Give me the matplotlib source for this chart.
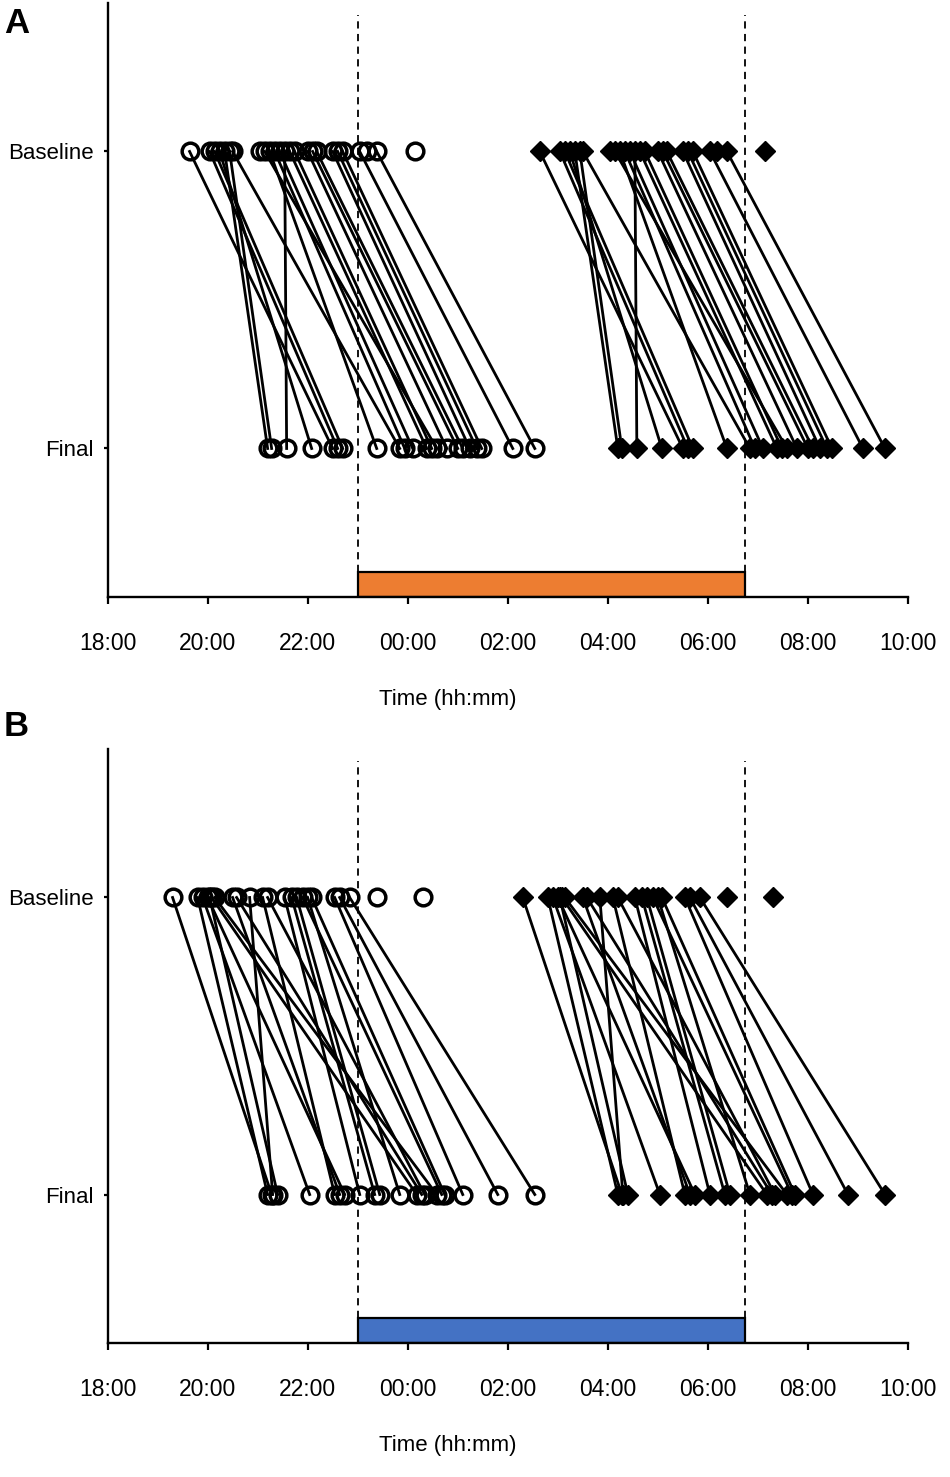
import numpy as np
from matplotlib import use
use('Agg')
from matplotlib import pyplot as plt

plt.rcParams['font.family'] = ['Liberation Sans', 'DejaVu Sans']

# Panel A - bedtime (open circles), baseline -> final, paired by participant
bed_base_a = [19.64, 20.04, 20.14, 20.24, 20.34, 20.50, 20.44, 21.14, 21.24, 21.34, 21.44,
              21.54, 21.64, 21.74, 22.00, 22.10, 22.18, 22.50, 22.60, 22.70, 23.04, 23.38]
bed_final_a = [22.50, 22.60, 22.70, 22.08, 21.20, 23.84, 21.28, 24.58, 23.38, 23.94, 24.10,
               21.58, 24.38, 24.48, 24.78, 25.00, 25.10, 25.24, 25.38, 25.48, 26.10, 26.54]
bed_only_a = [21.04, 23.18, 24.14]
# Panel A - wake time (diamonds)
wake_base_a = [26.64, 27.04, 27.14, 27.24, 27.34, 27.50, 27.44, 28.14, 28.24, 28.34, 28.44,
               28.54, 28.64, 28.74, 29.00, 29.10, 29.18, 29.50, 29.60, 29.70, 30.04, 30.38]
wake_final_a = [29.50, 29.60, 29.70, 29.08, 28.20, 30.84, 28.28, 31.58, 30.38, 30.94, 31.10,
                28.58, 31.38, 31.48, 31.78, 32.00, 32.10, 32.24, 32.38, 32.48, 33.10, 33.54]
wake_only_a = [28.04, 30.18, 31.14]

# Panel B
bed_base_b = [19.30, 19.80, 19.90, 20.00, 20.04, 20.08, 20.14, 20.50, 20.58, 20.84, 21.10,
              21.20, 21.54, 21.68, 21.78, 21.90, 22.00, 22.08, 22.54, 22.64, 22.84]
bed_final_b = [21.28, 21.20, 22.04, 22.74, 21.40, 24.18, 24.58, 22.64, 24.28, 21.30, 22.54,
               24.34, 23.04, 23.34, 23.44, 24.68, 23.84, 24.74, 25.10, 25.80, 26.54]
bed_only_b = [23.38, 24.30]
wake_base_b = [26.30, 26.80, 26.90, 27.00, 27.04, 27.08, 27.14, 27.50, 27.58, 27.84, 28.10,
               28.20, 28.54, 28.68, 28.78, 28.90, 29.00, 29.08, 29.54, 29.64, 29.84]
wake_final_b = [28.28, 28.20, 29.04, 29.74, 28.40, 31.18, 31.58, 29.64, 31.28, 28.30, 29.54,
                31.34, 30.04, 30.34, 30.44, 31.68, 30.84, 31.74, 32.10, 32.80, 33.54]
wake_only_b = [30.38, 31.30]

# scheduled sleep window (23:00 -> 06:45)
window_start = 23.0
window_end = 30.75

hour_ticks = list(range(18, 35, 2))
tick_labels = ['%02d:00' % (h % 24) for h in hour_ticks]
row_labels = ['Final', 'Baseline']


def draw_panel(ax, bb, bf, bo, wb, wf, wo, bar_color):
    for b, f in zip(bb, bf):
        ax.plot([b, f], [2, 1], color='black', lw=2.0, zorder=2)
    for b, f in zip(wb, wf):
        ax.plot([b, f], [2, 1], color='black', lw=2.0, zorder=2)
    circ = dict(marker='o', ms=12, mfc='none', mec='black', mew=2.5, ls='none', zorder=3)
    diam = dict(marker='D', ms=10.5, mfc='black', mec='black', ls='none', zorder=3)
    ax.plot(bb + bo, [2] * len(bb + bo), **circ)
    ax.plot(bf, [1] * len(bf), **circ)
    ax.plot(wb + wo, [2] * len(wb + wo), **diam)
    ax.plot(wf, [1] * len(wf), **diam)

    ax.bar(window_start, 0.084, width=window_end - window_start, bottom=0.5,
           align='edge', color=bar_color, edgecolor='black', lw=1.6, zorder=2)
    for x in (window_start, window_end):
        ax.plot([x, x], [0.584, 2.46], color='black', lw=1.3,
                ls=(0, (4, 3)), zorder=1)

    ax.set_xlim(18, 34)
    ax.set_ylim(0.5, 2.5)
    ax.set_xticks(hour_ticks)
    ax.set_xticklabels(tick_labels, fontsize=16.5)
    ax.set_yticks([1, 2])
    ax.set_yticklabels(row_labels, fontsize=16)
    ax.set_xlabel('Time (hh:mm)', fontsize=16)
    ax.xaxis.set_label_coords(0.425, -0.155)
    ax.spines['top'].set_visible(False)
    ax.spines['right'].set_visible(False)
    for s in ('left', 'bottom'):
        ax.spines[s].set_linewidth(1.7)
    ax.tick_params(axis='x', length=5, width=1.6, pad=20, direction='out')
    ax.tick_params(axis='y', length=3, width=1.6, pad=7, direction='out')


fig = plt.figure(figsize=(9.5, 14.77), dpi=100)
ax_a = fig.add_axes([0.1132, 0.5958, 0.8426, 0.4022])
ax_b = fig.add_axes([0.1132, 0.0907, 0.8426, 0.4022])

draw_panel(ax_a, bed_base_a, bed_final_a, bed_only_a,
           wake_base_a, wake_final_a, wake_only_a, '#ED7D31')
draw_panel(ax_b, bed_base_b, bed_final_b, bed_only_b,
           wake_base_b, wake_final_b, wake_only_b, '#4472C4')

fig.text(0.004, 1 - 7 / 1477, 'A', fontsize=25, fontweight='bold', va='top', ha='left')
fig.text(0.004, 1 - 710 / 1477, 'B', fontsize=25, fontweight='bold', va='top', ha='left')

fig.savefig('out.png', dpi=100)
